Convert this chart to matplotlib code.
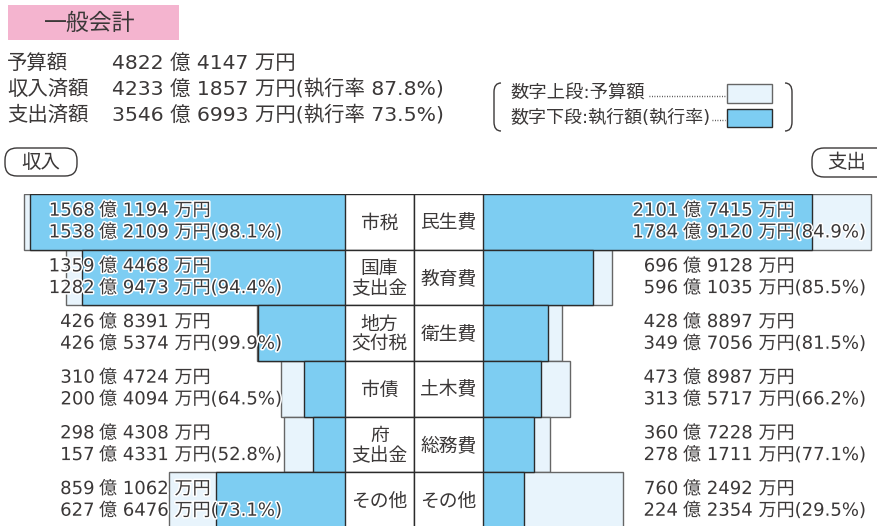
import matplotlib
matplotlib.use('Agg')
import matplotlib.pyplot as plt
import matplotlib.patheffects as pe
import matplotlib.transforms as mtransforms
from matplotlib.patches import FancyBboxPatch, Rectangle, PathPatch
from matplotlib.path import Path

plt.rcParams['font.family'] = ['DejaVu Sans', 'Noto Sans CJK JP']

# ---------------- data ----------------
title = '一般会計'
summary_labels = ['予算額', '収入済額', '支出済額']
summary_values = ['4822 億 4147 万円',
                  '4233 億 1857 万円(執行率 87.8%)',
                  '3546 億 6993 万円(執行率 73.5%)']
legend_labels = ['数字上段:予算額', '数字下段:執行額(執行率)']
side_labels = ['収入', '支出']

rev_cats = ['市税', '国庫\n支出金', '地方\n交付税', '市債', '府\n支出金', 'その他']
rev_budget = [1568.1194, 1359.4468, 426.8391, 310.4724, 298.4308, 859.1062]
rev_exec = [1538.2109, 1282.9473, 426.5374, 200.4094, 157.4331, 627.6476]
rev_rate = [98.1, 94.4, 99.9, 64.5, 52.8, 73.1]

exp_cats = ['民生費', '教育費', '衛生費', '土木費', '総務費', 'その他']
exp_budget = [2101.7415, 696.9128, 428.8897, 473.8987, 360.7228, 760.2492]
exp_exec = [1784.9120, 596.1035, 349.7056, 313.5717, 278.1711, 224.2354]
exp_rate = [84.9, 85.5, 81.5, 66.2, 77.1, 29.5]

# ---------------- style ----------------
W, H = 878, 526
TXT = '#3b3838'
LIGHT = '#e8f4fc'
BLUE = '#7dcdf2'
EDGE_L = '#666666'
EDGE_D = '#2b2b2b'
PINK = '#f4b4cf'
FS = 13.5
FS_NUM = 13.0

fig = plt.figure(figsize=(W / 100, H / 100), dpi=100)

def fx(px):
    return px / W

def fy(py):
    return 1 - py / H

# overlay axes in pixel coordinates for decorations
ov = fig.add_axes([0, 0, 1, 1])
ov.set_xlim(0, W)
ov.set_ylim(H, 0)
ov.axis('off')

# title box
ov.add_patch(Rectangle((8, 5), 171, 35, facecolor=PINK, edgecolor='none'))
ov.text(90, 23, title, ha='center', va='center', fontsize=16.5, color=TXT)

# summary
for i, (lab, val) in enumerate(zip(summary_labels, summary_values)):
    y = 63 + i * 26
    ov.text(7, y, lab, ha='left', va='center', fontsize=14.7, color=TXT)
    ov.text(112, y, val, ha='left', va='center', fontsize=14.7, color=TXT)

# legend
ov.text(510, 94, legend_labels[0], ha='left', va='center', fontsize=13.2, color=TXT)
ov.text(510, 118, legend_labels[1], ha='left', va='center', fontsize=13.0, color=TXT)
ov.plot([649, 725], [96, 96], color=TXT, lw=1.0, ls=(0, (0.6, 1.2)))
ov.plot([712, 725], [120, 120], color=TXT, lw=1.0, ls=(0, (0.6, 1.2)))
ov.add_patch(Rectangle((727, 84), 45, 19, facecolor=LIGHT, edgecolor=EDGE_L, lw=1))
ov.add_patch(Rectangle((727, 109), 45, 18, facecolor=BLUE, edgecolor=EDGE_D, lw=1))
lb = Path([(501, 83), (494, 83), (494, 92), (494, 122), (494, 131), (501, 131)],
          [Path.MOVETO, Path.CURVE3, Path.CURVE3, Path.LINETO, Path.CURVE3, Path.CURVE3])
rb = Path([(785, 83), (792, 83), (792, 92), (792, 122), (792, 131), (785, 131)],
          [Path.MOVETO, Path.CURVE3, Path.CURVE3, Path.LINETO, Path.CURVE3, Path.CURVE3])
ov.add_patch(PathPatch(lb, facecolor='none', edgecolor=TXT, lw=1))
ov.add_patch(PathPatch(rb, facecolor='none', edgecolor=TXT, lw=1))

# side pills
ov.add_patch(FancyBboxPatch((5, 148), 72, 28, boxstyle='round,pad=0,rounding_size=12',
                            facecolor='white', edgecolor=TXT, lw=1))
ov.text(41, 162, side_labels[0], ha='center', va='center', fontsize=14, color=TXT)
ov.add_patch(FancyBboxPatch((812, 148), 80, 29, boxstyle='round,pad=0,rounding_size=12',
                            facecolor='white', edgecolor=TXT, lw=1, clip_on=False))
ov.text(847, 162, side_labels[1], ha='center', va='center', fontsize=14, color=TXT)

# ---------------- bar axes ----------------
TOP, BOT = 194, 528
L0, L1 = 345, 483
n = len(rev_cats)
rows = [i + 0.5 for i in range(n)]

axL = fig.add_axes([0, fy(BOT), fx(L0), (BOT - TOP) / H])
axC = fig.add_axes([fx(L0), fy(BOT), fx(L1 - L0), (BOT - TOP) / H])
axR = fig.add_axes([fx(L1), fy(BOT), fx(W - L1), (BOT - TOP) / H])

LSCALE = 0.205   # px per 億 (revenue)
RSCALE = 0.1845  # px per 億 (expenditure)
axL.set_xlim(L0 / LSCALE, 0)
axR.set_xlim(0, (W - L1) / RSCALE)
axC.set_xlim(0, 2)
for a in (axL, axC, axR):
    a.set_ylim(n, 0)
    a.axis('off')

axL.barh(rows, rev_budget, height=1.0, color=LIGHT, edgecolor=EDGE_L, lw=1)
axL.barh(rows, rev_exec, height=1.0, color=BLUE, edgecolor=EDGE_D, lw=1)
axR.barh(rows, exp_budget, height=1.0, color=LIGHT, edgecolor=EDGE_L, lw=1)
axR.barh(rows, exp_exec, height=1.0, color=BLUE, edgecolor=EDGE_D, lw=1)
axC.barh(rows, [1] * n, left=0, height=1.0, color='white', edgecolor=EDGE_D, lw=1)
axC.barh(rows, [1] * n, left=1, height=1.0, color='white', edgecolor=EDGE_D, lw=1)

for i in range(n):
    axC.text(0.5, rows[i] + 0.02, rev_cats[i], ha='center', va='center', fontsize=FS,
             color=TXT, linespacing=1.05)
    axC.text(1.5, rows[i] + 0.02, exp_cats[i], ha='center', va='center', fontsize=FS,
             color=TXT, linespacing=1.05)


def split(v):
    t = int(round(v * 10000))
    return t // 10000, t % 10000


halo = [pe.withStroke(linewidth=2.2, foreground='white')]


def put_numbers(ax, budgets, execs, rates, xint, xrest):
    tr = mtransforms.blended_transform_factory(ov.transData, ax.transData)
    for i in range(n):
        ob, mb = split(budgets[i])
        oe, me = split(execs[i])
        y1 = i + 0.30
        y2 = i + 0.69
        kw = dict(transform=tr, va='center', fontsize=FS_NUM, color=TXT,
                  path_effects=halo, clip_on=False, zorder=5)
        ax.text(xint, y1, f'{ob}', ha='right', **kw)
        ax.text(xrest, y1, f'億 {mb} 万円', ha='left', **kw)
        ax.text(xint, y2, f'{oe}', ha='right', **kw)
        ax.text(xrest, y2, f'億 {me} 万円({rates[i]:.1f}%)', ha='left', **kw)


put_numbers(axL, rev_budget, rev_exec, rev_rate, 94.5, 99)
put_numbers(axR, exp_budget, exp_exec, exp_rate, 678, 683)

fig.savefig('out.png', dpi=100)
